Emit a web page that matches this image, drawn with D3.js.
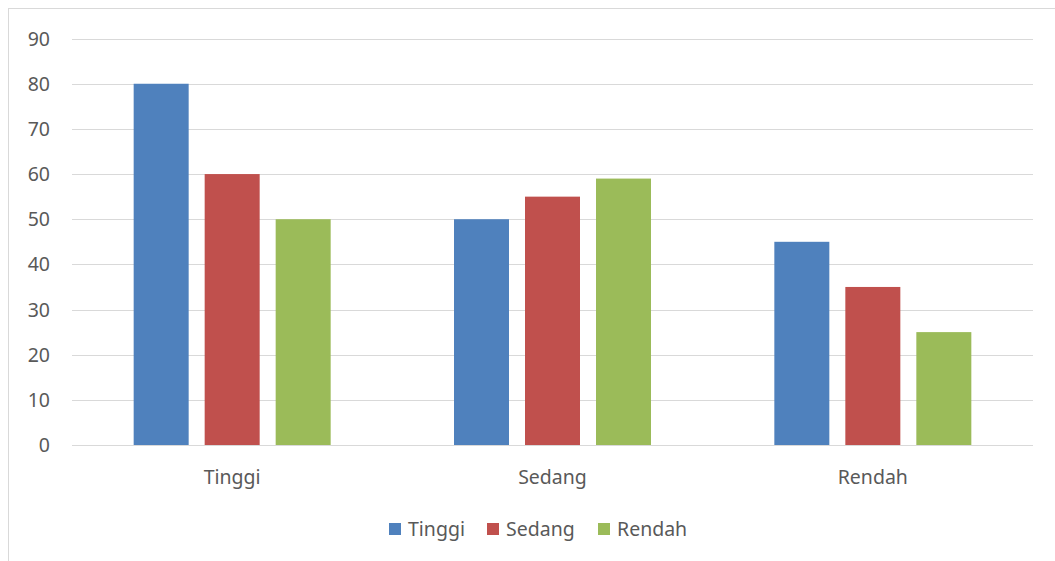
<!DOCTYPE html>
<html><head><meta charset="utf-8">
<script src="https://cdn.jsdelivr.net/npm/d3@7"></script>
<style>body{margin:0;background:#fff}svg{display:block}</style>
</head><body>
<svg id="c" width="1055" height="561"></svg>
<script>
const categories = ["Tinggi", "Sedang", "Rendah"];
const seriesNames = ["Tinggi", "Sedang", "Rendah"];
const seriesColors = ["#4F81BD", "#C0504D", "#9BBB59"];
const valuesTinggi = [80, 50, 45];
const valuesSedang = [60, 55, 35];
const valuesRendah = [50, 59, 25];
const yTicks = [0, 10, 20, 30, 40, 50, 60, 70, 80, 90];

(function () {
const series = [valuesTinggi, valuesSedang, valuesRendah];
const svg = d3.select("#c");
const font = "'Noto Sans', 'Open Sans', sans-serif";
const textColor = "#595959";
const fs = 19.5;

// chart border
svg.append("rect").attr("x", 8.5).attr("y", 8.5).attr("width", 1100).attr("height", 600)
  .attr("fill", "none").attr("stroke", "#D9D9D9");

const mLeft = 72, mRight = 1033, mTop = 38.6, mBottom = 445;
const y = d3.scaleLinear().domain([0, 90]).range([mBottom, mTop]);
const x0 = d3.scaleBand().domain(categories).range([mLeft, mRight]).padding(0);
const barW = 55, gap = 16;

// gridlines
svg.append("g").selectAll("line").data(yTicks).join("line")
  .attr("x1", mLeft).attr("x2", mRight)
  .attr("y1", d => Math.round(y(d)) + 0.5).attr("y2", d => Math.round(y(d)) + 0.5)
  .attr("stroke", "#D9D9D9").attr("stroke-width", 1);

// y labels
svg.append("g").selectAll("text").data(yTicks).join("text")
  .attr("x", 50).attr("y", d => y(d)).attr("dy", "0.36em")
  .attr("text-anchor", "end").attr("font-family", font).attr("font-size", fs)
  .attr("fill", textColor).text(d => d);

// bars
const groupW = barW * 3 + gap * 2;
series.forEach((vals, si) => {
  svg.append("g").selectAll("rect").data(categories).join("rect")
    .attr("x", (c) => x0(c) + x0.bandwidth() / 2 - groupW / 2 + si * (barW + gap))
    .attr("y", (c, i) => y(vals[i]))
    .attr("width", barW)
    .attr("height", (c, i) => y(0) - y(vals[i]))
    .attr("fill", seriesColors[si]);
});

// x labels
svg.append("g").selectAll("text").data(categories).join("text")
  .attr("x", c => x0(c) + x0.bandwidth() / 2).attr("y", 477).attr("dy", "0.36em")
  .attr("text-anchor", "middle").attr("font-family", font).attr("font-size", fs)
  .attr("fill", textColor).text(c => c);

// legend
const legendX = [389, 487, 598];
seriesNames.forEach((n, i) => {
  svg.append("rect").attr("x", legendX[i]).attr("y", 523).attr("width", 12).attr("height", 12)
    .attr("fill", seriesColors[i]);
  svg.append("text").attr("x", legendX[i] + 19).attr("y", 529).attr("dy", "0.36em")
    .attr("font-family", font).attr("font-size", fs).attr("fill", textColor).text(n);
});
})();
</script>
</body></html>
